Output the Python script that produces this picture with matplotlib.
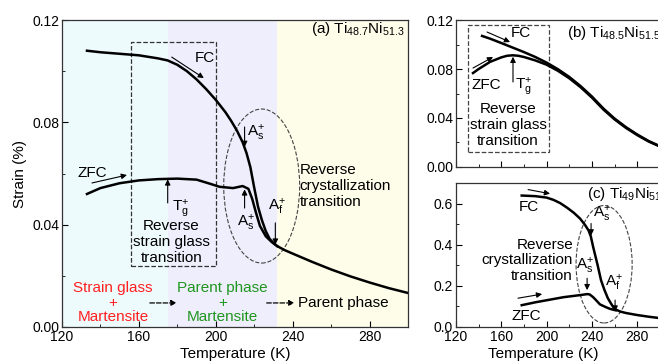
import numpy as np
import matplotlib
matplotlib.use('Agg')
import matplotlib.pyplot as plt
from matplotlib.patches import Ellipse, Rectangle

plt.rcParams['font.family'] = ['Liberation Sans', 'DejaVu Sans']
plt.rcParams['mathtext.fontset'] = 'custom'
plt.rcParams['mathtext.rm'] = 'Liberation Sans'
plt.rcParams['mathtext.it'] = 'Liberation Sans'

# ---- panel (a) Ti48.7Ni51.3 ----
a_fc_T = [133, 140, 150, 160, 170, 175, 180, 185, 190, 195, 200, 205, 208, 211, 214, 216,
          218, 220, 222, 224, 226, 228, 230, 232, 236, 240, 250, 260, 270, 280, 290, 300]
a_fc_s = [0.108, 0.1074, 0.1068, 0.1062, 0.1050, 0.1042, 0.1025, 0.1000, 0.0968, 0.0930,
          0.0888, 0.0840, 0.0806, 0.0768, 0.0722, 0.0680, 0.0625, 0.0545, 0.0470, 0.0418,
          0.0375, 0.0345, 0.0328, 0.0316, 0.0300, 0.0287, 0.0255, 0.0225, 0.0198, 0.0174,
          0.0152, 0.0133]
a_zfc_T = [133, 140, 150, 160, 170, 180, 190, 197, 202, 209, 214, 217, 219, 221, 223, 226,
           229, 232]
a_zfc_s = [0.052, 0.0543, 0.0562, 0.0573, 0.0578, 0.0580, 0.0576, 0.0560, 0.0548, 0.0543,
           0.0551, 0.0540, 0.0500, 0.0445, 0.0395, 0.0355, 0.0333, 0.0316]

# ---- panel (b) Ti48.5Ni51.5 ----
b_fc_T = [143, 150, 160, 170, 180, 190, 200, 210, 220, 230, 240, 250, 260, 270, 280, 290, 300]
b_fc_s = [0.107, 0.1048, 0.1012, 0.0975, 0.0938, 0.0898, 0.0852, 0.0798, 0.0735, 0.0660,
          0.0575, 0.0478, 0.0395, 0.0325, 0.0265, 0.0212, 0.0170]
b_zfc_T = [135, 140, 150, 160, 165, 170, 175, 180, 190, 200, 210, 220, 230, 240, 250, 260,
           270, 280, 290, 300]
b_zfc_s = [0.0767, 0.0800, 0.0858, 0.0895, 0.0908, 0.0912, 0.0908, 0.0898, 0.0870, 0.0835,
           0.0785, 0.0724, 0.0651, 0.0566, 0.0470, 0.0388, 0.0319, 0.0260, 0.0208, 0.0167]

# ---- panel (c) Ti49Ni51 ----
c_fc_T = [178, 190, 200, 206, 212, 218, 224, 229.5, 234, 237, 239, 241, 243, 245, 248, 251,
          254, 257, 259, 261, 265, 270, 280, 290, 300]
c_fc_s = [0.639, 0.636, 0.629, 0.618, 0.602, 0.580, 0.555, 0.527, 0.495, 0.469, 0.44, 0.39,
          0.345, 0.30, 0.227, 0.18, 0.14, 0.112, 0.095, 0.085, 0.075, 0.068, 0.058, 0.05,
          0.043]
c_zfc_T = [178, 190, 200, 215, 229.5, 236, 238, 241, 244, 247, 252, 256, 261]
c_zfc_s = [0.106, 0.12, 0.13, 0.145, 0.155, 0.16, 0.158, 0.145, 0.128, 0.11, 0.097, 0.088,
           0.081]

cyan = '#eefbfd'
lavender = '#eeeefc'
yellow = '#fdfdea'
fs = 11
tfs = 10
lsp = 1.15


def arrow(ax, start, end, lw=0.8, ls='-'):
    ax.annotate('', xy=end, xytext=start,
                arrowprops=dict(arrowstyle='-|>', lw=lw, color='k', ls=ls,
                                mutation_scale=8, shrinkA=0, shrinkB=0))


def style(ax, ymajor, yminor, fmt):
    ax.set_xlim(120, 300)
    ax.set_xticks(np.arange(120, 301, 40))
    ax.set_xticks(np.arange(140, 301, 40), minor=True)
    ax.set_yticks(ymajor)
    ax.set_yticks(yminor, minor=True)
    ax.yaxis.set_major_formatter(matplotlib.ticker.FormatStrFormatter(fmt))
    ax.tick_params(which='both', direction='in', labelsize=tfs, top=False, right=False,
                   pad=2)
    ax.tick_params(which='major', length=4)
    ax.tick_params(which='minor', length=2.5)
    for sp in ax.spines.values():
        sp.set_linewidth(0.9)
        sp.set_color('#333333')


fig = plt.figure(figsize=(6.58, 3.62), dpi=100)
ax1 = fig.add_axes([0.0942, 0.0967, 0.5258, 0.848])
ax2 = fig.add_axes([0.693, 0.5387, 0.310, 0.406])
ax3 = fig.add_axes([0.693, 0.0967, 0.310, 0.3978])

# panel a
ax1.set_ylim(0, 0.12)
ax1.axvspan(120, 175, color=cyan, lw=0, zorder=0)
ax1.axvspan(175, 232, color=lavender, lw=0, zorder=0)
ax1.axvspan(232, 300, color=yellow, lw=0, zorder=0)
ax1.plot(a_fc_T, a_fc_s, c='k', lw=1.8)
ax1.plot(a_zfc_T, a_zfc_s, c='k', lw=1.8)
ax1.add_patch(Rectangle((155.8, 0.0238), 44.2, 0.0876, fill=False, ls='--', lw=0.9,
                        ec='#333333'))
ax1.add_patch(Ellipse((223.9, 0.0551), 39.5, 0.0602, fill=False, ls='--', lw=0.8,
                      ec='#444444'))
arrow(ax1, (177.1, 0.1055), (193.8, 0.0973))
ax1.text(189, 0.1052, 'FC', fontsize=fs, ha='left', va='center')
arrow(ax1, (135.6, 0.0563), (153.8, 0.0594))
ax1.text(136, 0.0602, 'ZFC', fontsize=fs, ha='center', va='center')
arrow(ax1, (175, 0.0485), (175, 0.0577))
ax1.text(177, 0.0465, r'T$_{\rm g}^{+}$', fontsize=fs, ha='left', va='center')
arrow(ax1, (215, 0.0782), (215, 0.0704))
ax1.text(216.5, 0.0760, r'A$_{\rm s}^{+}$', fontsize=fs, ha='left', va='center')
arrow(ax1, (215, 0.0465), (215, 0.0538))
ax1.text(215.5, 0.0405, r'A$_{\rm s}^{+}$', fontsize=fs, ha='center', va='center')
arrow(ax1, (231, 0.0407), (231, 0.0322))
ax1.text(232, 0.0470, r'A$_{\rm f}^{+}$', fontsize=fs, ha='center', va='center')
ax1.text(177, 0.0332, 'Reverse\nstrain glass\ntransition', fontsize=fs, ha='center',
         va='center', linespacing=lsp)
ax1.text(243.6, 0.0551, 'Reverse\ncrystallization\ntransition', fontsize=fs, ha='left',
         va='center', linespacing=lsp)
ax1.text(146.5, 0.0094, 'Strain glass\n+\nMartensite', fontsize=fs, ha='center',
         va='center', color='#ff2020', linespacing=1.05)
ax1.text(203.6, 0.0094, 'Parent phase\n+\nMartensite', fontsize=fs, ha='center',
         va='center', color='#1f961f', linespacing=1.05)
ax1.text(242.6, 0.0094, 'Parent phase', fontsize=fs, ha='left', va='center')
arrow(ax1, (165.7, 0.0094), (179.7, 0.0094), lw=0.9, ls='--')
arrow(ax1, (226.5, 0.0094), (241, 0.0094), lw=0.9, ls='--')
ax1.text(298.5, 0.1165, r'(a) Ti$_{48.7}$Ni$_{51.3}$', fontsize=fs, ha='right',
         va='center')
ax1.set_xlabel('Temperature (K)', fontsize=fs, labelpad=2)
ax1.set_ylabel('Strain (%)', fontsize=fs, labelpad=4)
style(ax1, [0, 0.04, 0.08, 0.12], [0.02, 0.06, 0.10], '%.2f')

# panel b
ax2.set_ylim(0, 0.12)
ax2.plot(b_fc_T, b_fc_s, c='k', lw=1.8)
ax2.plot(b_zfc_T, b_zfc_s, c='k', lw=1.8)
ax2.add_patch(Rectangle((130.6, 0.0122), 71.4, 0.1037, fill=False, ls='--', lw=0.9,
                        ec='#444444'))
arrow(ax2, (147.4, 0.1102), (167.7, 0.1020))
ax2.text(177.4, 0.1094, 'FC', fontsize=fs, ha='center', va='center')
arrow(ax2, (135, 0.0808), (152.7, 0.0898))
ax2.text(146.5, 0.0670, 'ZFC', fontsize=fs, ha='center', va='center')
arrow(ax2, (170.3, 0.0694), (170.3, 0.0900))
ax2.text(172.5, 0.0660, r'T$_{\rm g}^{+}$', fontsize=fs, ha='left', va='center')
ax2.text(166, 0.0343, 'Reverse\nstrain glass\ntransition', fontsize=fs, ha='center',
         va='center', linespacing=lsp)
ax2.text(218, 0.1094, r'(b) Ti$_{48.5}$Ni$_{51.5}$', fontsize=fs, ha='left', va='center')
style(ax2, [0, 0.04, 0.08, 0.12], [0.02, 0.06, 0.10], '%.2f')
ax2.tick_params(labelbottom=False)

# panel c
ax3.set_ylim(0, 0.7)
ax3.plot(c_fc_T, c_fc_s, c='k', lw=1.8)
ax3.plot(c_zfc_T, c_zfc_s, c='k', lw=1.8)
ax3.add_patch(Ellipse((250.7, 0.305), 49.5, 0.571, fill=False, ls='--', lw=0.8,
                      ec='#444444'))
arrow(ax3, (183.6, 0.668), (203, 0.648))
ax3.text(184.5, 0.585, 'FC', fontsize=fs, ha='center', va='center')
arrow(ax3, (174.7, 0.140), (196, 0.160))
ax3.text(182, 0.053, 'ZFC', fontsize=fs, ha='center', va='center')
arrow(ax3, (239.2, 0.503), (239.2, 0.445))
ax3.text(240.5, 0.55, r'A$_{\rm s}^{+}$', fontsize=fs, ha='left', va='center')
arrow(ax3, (235.7, 0.237), (235.7, 0.179))
ax3.text(234, 0.295, r'A$_{\rm s}^{+}$', fontsize=fs, ha='center', va='center')
arrow(ax3, (260.4, 0.131), (260.4, 0.075))
ax3.text(259, 0.213, r'A$_{\rm f}^{+}$', fontsize=fs, ha='center', va='center')
ax3.text(223.3, 0.324, 'Reverse\ncrystallization\ntransition', fontsize=fs, ha='right',
         va='center', linespacing=lsp)
ax3.text(235.7, 0.648, r'(c) Ti$_{49}$Ni$_{51}$', fontsize=fs, ha='left', va='center')
ax3.set_xlabel('Temperature (K)', fontsize=fs)
ax3.xaxis.set_label_coords(0.43, -0.14)
style(ax3, [0, 0.2, 0.4, 0.6], [0.1, 0.3, 0.5], '%.1f')

fig.savefig('out.png', dpi=100)
